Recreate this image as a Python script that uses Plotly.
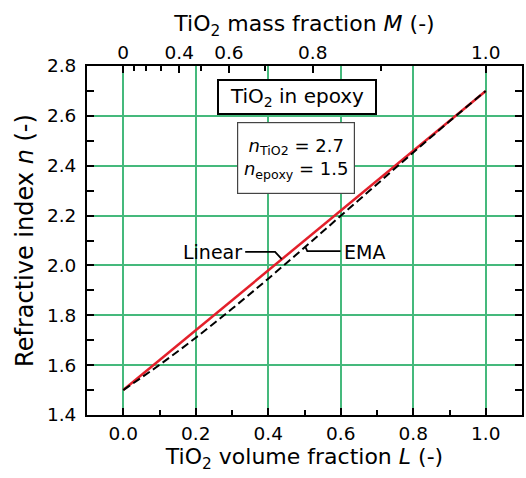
import plotly.graph_objects as go

# ---- data ----
L_vals = [0.0, 0.1, 0.2, 0.3, 0.4, 0.5, 0.6, 0.7, 0.8, 0.9, 1.0]
n_linear = [1.500, 1.620, 1.740, 1.860, 1.980, 2.100, 2.220, 2.340, 2.460, 2.580, 2.700]
n_ema = [1.500, 1.601, 1.710, 1.826, 1.947, 2.072, 2.199, 2.326, 2.453, 2.578, 2.700]

bottom_ticks = [0.0, 0.2, 0.4, 0.6, 0.8, 1.0]
bottom_ticktext = ["0.0", "0.2", "0.4", "0.6", "0.8", "1.0"]
bottom_minor = [0.1, 0.3, 0.5, 0.7, 0.9]
y_ticks = [1.4, 1.6, 1.8, 2.0, 2.2, 2.4, 2.6, 2.8]
y_ticktext = ["1.4", "1.6", "1.8", "2.0", "2.2", "2.4", "2.6", "2.8"]
y_minor = [1.5, 1.7, 1.9, 2.1, 2.3, 2.5, 2.7]

# top axis: TiO2 mass fraction ticks (density ratio TiO2/epoxy)
density_ratio = 3.65
mass_major = [0.0, 0.4, 0.6, 0.8, 1.0]
mass_major_text = ["0", "0.4", "0.6", "0.8", "1.0"]
mass_minor = [0.1, 0.2, 0.3, 0.5, 0.7, 0.9]


def mass_to_volume(m):
    return m / (m + (1 - m) * density_ratio)


top_major_pos = [mass_to_volume(m) for m in mass_major]
top_minor_pos = [mass_to_volume(m) for m in mass_minor]

FONT = "DejaVu Sans, Liberation Sans, Arial, sans-serif"
GRID = "#45b97c"
RED = "#e3202b"
TICKSIZE = 18.5

fig = go.Figure()
fig.add_trace(go.Scatter(x=L_vals, y=n_linear, mode="lines",
                         line=dict(color=RED, width=2.5), name="Linear",
                         showlegend=False))
fig.add_trace(go.Scatter(x=L_vals, y=n_ema, mode="lines",
                         line=dict(color="black", width=2, dash="8px,4px", shape="spline"),
                         name="EMA", showlegend=False))
# invisible trace to anchor top axis
fig.add_trace(go.Scatter(x=[L_vals[0], L_vals[-1]], y=[n_linear[0], n_linear[-1]],
                         xaxis="x2", mode="lines", line=dict(width=0),
                         hoverinfo="skip", showlegend=False, opacity=0))

fig.update_layout(
    width=526, height=478,
    margin=dict(l=87, r=2, t=66, b=63),
    paper_bgcolor="white", plot_bgcolor="white",
    font=dict(family=FONT, color="black", size=TICKSIZE),
    xaxis=dict(
        range=[-0.1, 1.1], tickmode="array",
        tickvals=bottom_ticks, ticktext=bottom_ticktext,
        ticks="inside", ticklen=7, tickwidth=2, tickcolor="black",
        minor=dict(tickvals=bottom_minor, ticks="inside", ticklen=5,
                   tickwidth=2, tickcolor="black", showgrid=False),
        showgrid=True, gridcolor=GRID, gridwidth=1.5,
        showline=True, linecolor="black", linewidth=2, mirror=True,
        zeroline=False, tickfont=dict(size=TICKSIZE),
        title=dict(text="TiO<sub>2</sub> volume fraction <i>L</i> (-)",
                   font=dict(size=22), standoff=2),
        ticklabelstandoff=1,
    ),
    xaxis2=dict(
        overlaying="x", side="top", range=[-0.1, 1.1], matches="x",
        tickmode="array", tickvals=top_major_pos, ticktext=mass_major_text,
        ticks="inside", ticklen=7, tickwidth=2, tickcolor="black",
        minor=dict(tickvals=top_minor_pos, ticks="inside", ticklen=5,
                   tickwidth=2, tickcolor="black", showgrid=False),
        showgrid=False, showline=False, zeroline=False,
        tickfont=dict(size=TICKSIZE), ticklabelstandoff=2,
        title=dict(text="TiO<sub>2</sub> mass fraction <i>M</i> (-)",
                   font=dict(size=22), standoff=4),
    ),
    yaxis=dict(
        range=[1.4, 2.8], tickmode="array",
        tickvals=y_ticks, ticktext=y_ticktext,
        ticks="inside", ticklen=7, tickwidth=2, tickcolor="black",
        minor=dict(tickvals=y_minor, ticks="inside",
                   ticklen=5, tickwidth=2, tickcolor="black", showgrid=False),
        showgrid=True, gridcolor=GRID, gridwidth=1.5,
        showline=True, linecolor="black", linewidth=2, mirror="allticks",
        zeroline=False, tickfont=dict(size=TICKSIZE), ticklabelstandoff=5,
        title=dict(text="Refractive index <i>n</i> (-)", font=dict(size=24), standoff=6),
    ),
)

# text boxes
fig.add_annotation(x=0.478, y=2.676, xref="x", yref="y",
                   text="TiO<sub>2</sub> in epoxy", showarrow=False,
                   font=dict(size=20), bgcolor="white",
                   bordercolor="black", borderwidth=2, borderpad=0,
                   width=156, height=32, xanchor="center", yanchor="middle")
fig.add_annotation(x=0.4775, y=2.431, xref="x", yref="y",
                   text="<i>n</i><sub>TiO2</sub> = 2.7<br><i>n</i><sub>epoxy</sub> = 1.5",
                   showarrow=False, font=dict(size=18), bgcolor="white",
                   bordercolor="#444444", borderwidth=1.2, borderpad=0,
                   width=116, height=70, xanchor="center", yanchor="middle")

# series labels with leader lines
fig.add_annotation(x=0.334, y=2.052, xref="x", yref="y", text="Linear",
                   showarrow=False, font=dict(size=19), xanchor="right", yanchor="middle")
fig.add_shape(type="path", xref="x", yref="y",
              path="M 0.3364 2.0545 L 0.4189 2.0545 L 0.4373 2.025",
              line=dict(color="black", width=1.8))
fig.add_annotation(x=0.603, y=2.052, xref="x", yref="y", text="EMA",
                   showarrow=False, font=dict(size=19), xanchor="left", yanchor="middle")
fig.add_shape(type="path", xref="x", yref="y",
              path="M 0.503 2.072 L 0.5077 2.057 L 0.5995 2.057",
              line=dict(color="black", width=1.8))

fig.write_html("out.html")
